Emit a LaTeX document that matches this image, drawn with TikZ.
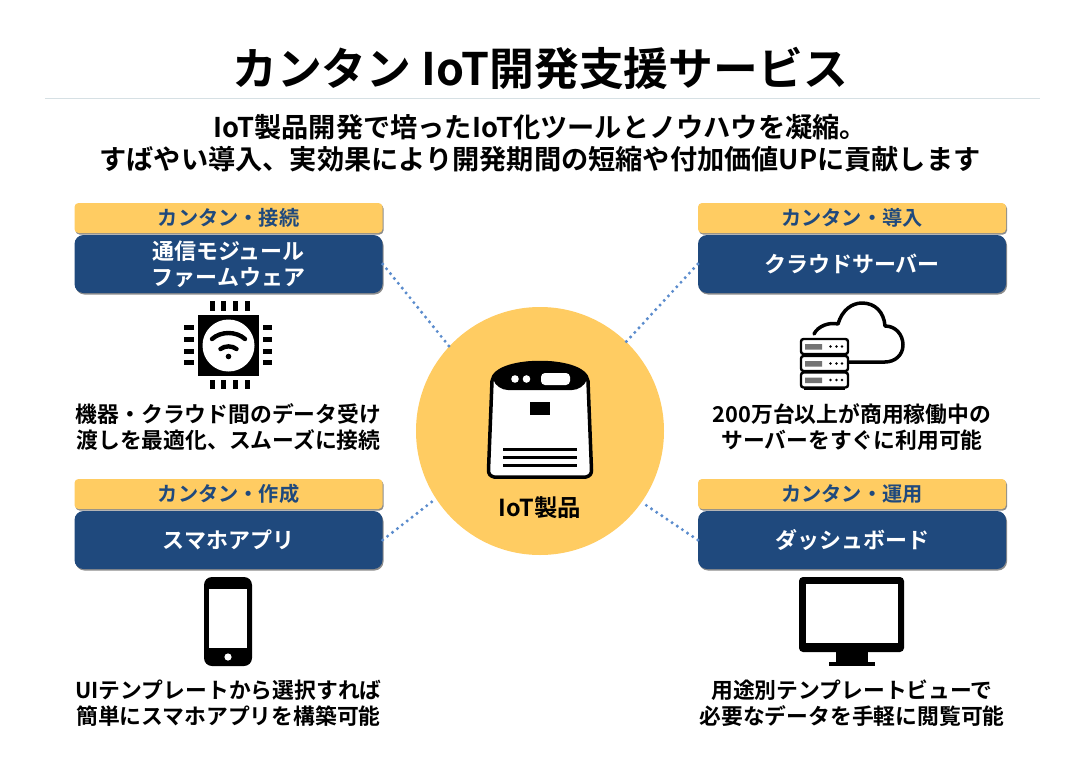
\documentclass[tikz,border=0pt]{standalone}
\usepackage{fontspec}
\setmainfont{Noto Sans CJK JP}[BoldFont=* Bold]
\definecolor{navyblue}{RGB}{31,73,125}
\definecolor{sunyellow}{RGB}{255,204,98}
\definecolor{dotblue}{RGB}{91,140,205}
\definecolor{rulegray}{RGB}{214,224,228}
\usepackage{tikz}
\usetikzlibrary{
  positioning,
  shadows
}

\begin{document}
\begin{tikzpicture}[
  x=1pt, y=-1pt,
  headline/.style={font=\fontsize{44.8}{50}\selectfont\bfseries, inner sep=0pt},
  subline/.style={font=\fontsize{27.2}{32}\selectfont\bfseries, align=center, inner sep=0pt},
  tagbox/.style={rectangle, fill=sunyellow, rounded corners=4pt, minimum width=308pt, minimum height=30pt, inner sep=0pt, text=navyblue, font=\fontsize{20.2}{22}\selectfont\bfseries, drop shadow={shadow xshift=1pt, shadow yshift=-1.5pt, fill=black!45, opacity=1}},
  modbox/.style={rectangle, fill=navyblue, rounded corners=9pt, minimum width=308pt, minimum height=58pt, inner sep=0pt, text=white, align=center, font=\fontsize{22}{26.5}\selectfont\bfseries, drop shadow={shadow xshift=1pt, shadow yshift=-1.5pt, fill=black!45, opacity=1}},
  desc/.style={font=\fontsize{21.8}{26}\selectfont\bfseries, align=center, inner sep=0pt},
  hub/.style={circle, fill=sunyellow, minimum size=248pt, inner sep=0pt},
  link/.style={dotblue, line width=3.4pt, line cap=round, dash pattern=on 0pt off 6.2pt},
  ink/.style={draw=black, line width=3.5pt, line join=round},
  pin/.style={black, line width=5pt}
]
  \useasboundingbox (0,0) rectangle (1080,763);
  \fill[white] (0,0) rectangle (1080,763);

  \node[headline] (title) at (540,68) {カンタン IoT開発支援サービス};
  \coordinate (ruleL) at (45,98);
  \coordinate (ruleR) at (1040,98);
  \draw[rulegray, line width=0.8pt] (ruleL) -- (ruleR);
  \node[subline] (lead) at (540,143) {IoT製品開発で培ったIoT化ツールとノウハウを凝縮。\\すばやい導入、実効果により開発期間の短縮や付加価値UPに貢献します};

  \node[hub] (center) at (540,431) {};
  \node[font=\fontsize{23.4}{25}\selectfont\bfseries, inner sep=0pt] (product) at (540,508) {IoT製品};

  \node[tagbox] (tagA) at (228.5,218) {カンタン・接続};
  \node[modbox] (modA) at (228.5,264) {通信モジュール\\ファームウェア};
  \node[desc] (descA) at (228.5,427) {機器・クラウド間のデータ受け\\渡しを最適化、スムーズに接続};

  \node[tagbox] (tagB) at (852,218) {カンタン・導入};
  \node[modbox] (modB) at (852,264) {クラウドサーバー};
  \node[desc] (descB) at (852,427) {200万台以上が商用稼働中の\\サーバーをすぐに利用可能};

  \node[tagbox] (tagC) at (228.5,494) {カンタン・作成};
  \node[modbox] (modC) at (228.5,540) {スマホアプリ};
  \node[desc] (descC) at (228.5,703) {UIテンプレートから選択すれば\\簡単にスマホアプリを構築可能};

  \node[tagbox] (tagD) at (852,494) {カンタン・運用};
  \node[modbox] (modD) at (852,540) {ダッシュボード};
  \node[desc] (descD) at (852,703) {用途別テンプレートビューで\\必要なデータを手軽に閲覧可能};

  \draw[link] (modA.east) -- (center.137);
  \draw[link] (modB.west) -- (center.46);
  \draw[link] (modC.east) -- (center.213);
  \draw[link] (modD.west) -- (center.-35);

  % chip
  \fill[black] (198,315) rectangle (259,376);
  \fill[white] (228.5,345.5) circle (26);
  \draw[pin] (212,301) -- (212,311) (223.5,301) -- (223.5,311) (235,301) -- (235,311) (247,301) -- (247,311);
  \draw[pin] (212,380) -- (212,389) (223.5,380) -- (223.5,389) (235,380) -- (235,389) (247,380) -- (247,389);
  \draw[pin] (184,327) -- (194,327) (184,339) -- (194,339) (184,351) -- (194,351) (184,362) -- (194,362);
  \draw[pin] (263,327) -- (272,327) (263,339) -- (272,339) (263,351) -- (272,351) (263,362) -- (272,362);
  \draw[black, line width=4.4pt, line cap=round] (212,339) .. controls (221,331) and (236,331) .. (245,339);
  \draw[black, line width=4.4pt, line cap=round] (220.5,349) .. controls (225,345.5) and (232,345.5) .. (236.5,349);
  \fill[black] (228.5,356.5) circle (2.8);

  % device
  \draw[ink, fill=white] (492,381) .. controls (494,367) and (520,362.5) .. (540,362.5) .. controls (560,362.5) and (586,367) .. (588,381) -- (591.5,470) .. controls (591.5,474) and (590,476) .. (586,477) -- (494,477) .. controls (490,476) and (488.5,474) .. (488.5,470) -- cycle;
  \fill[black] (493,379) .. controls (495,367) and (520,361) .. (540,361) .. controls (560,361) and (585,367) .. (587,379) .. controls (585,386) and (578,390) .. (572,390) -- (508,390) .. controls (502,390) and (495,386) .. (493,379) -- cycle;
  \fill[white] (515,379) circle (3.8) (526.5,379) circle (3.8);
  \fill[white, rounded corners=4pt] (541,373) rectangle (570,385);
  \fill[black] (530,402) rectangle (550,415);
  \draw[black, line width=2.8pt] (503,449.5) -- (577,449.5) (503,457.5) -- (577,457.5) (503,465.5) -- (577,465.5);

  % cloud and server
  \draw[ink, line cap=round] (814,334) .. controls (818,326) and (829,322) .. (838,324) .. controls (842,310) and (852,303) .. (862,303) .. controls (875,303) and (884,312) .. (885,326) .. controls (896,326) and (903,335) .. (903,345) .. controls (903,355) and (895,362) .. (885,362) -- (848,362);
  \draw[black, line width=2.4pt, fill=white, rounded corners=2.5pt] (801,339) rectangle (848,354);
  \draw[black, line width=2.4pt, fill=white, rounded corners=2.5pt] (801,356) rectangle (848,371);
  \draw[black, line width=2.4pt, fill=white, rounded corners=2.5pt] (801,372.5) rectangle (848,387.5);
  \fill[black] (804,388) rectangle (845,390);
  \fill[black!55] (805,344) rectangle (822,349.5) (805,361) rectangle (822,366.5) (805,377.5) rectangle (822,383);
  \fill[black] (830.5,346.5) circle (1.3) (836.5,346.5) circle (1.3) (842,346.5) circle (1.3);
  \fill[black] (830.5,363.5) circle (1.3) (836.5,363.5) circle (1.3) (842,363.5) circle (1.3);
  \fill[black] (830.5,380) circle (1.3) (836.5,380) circle (1.3) (842,380) circle (1.3);

  % phone
  \fill[black, rounded corners=8pt] (204,577) rectangle (252,666);
  \fill[white] (209,589) rectangle (247,648);
  \fill[white] (228,657) circle (3.6);

  % monitor
  \fill[black, rounded corners=4pt] (799,577) rectangle (904,652);
  \fill[white] (806,584) rectangle (898,643);
  \fill[black] (836,652) rectangle (868,662);
  \fill[black] (829,662) rectangle (875,666);
\end{tikzpicture}
\end{document}
